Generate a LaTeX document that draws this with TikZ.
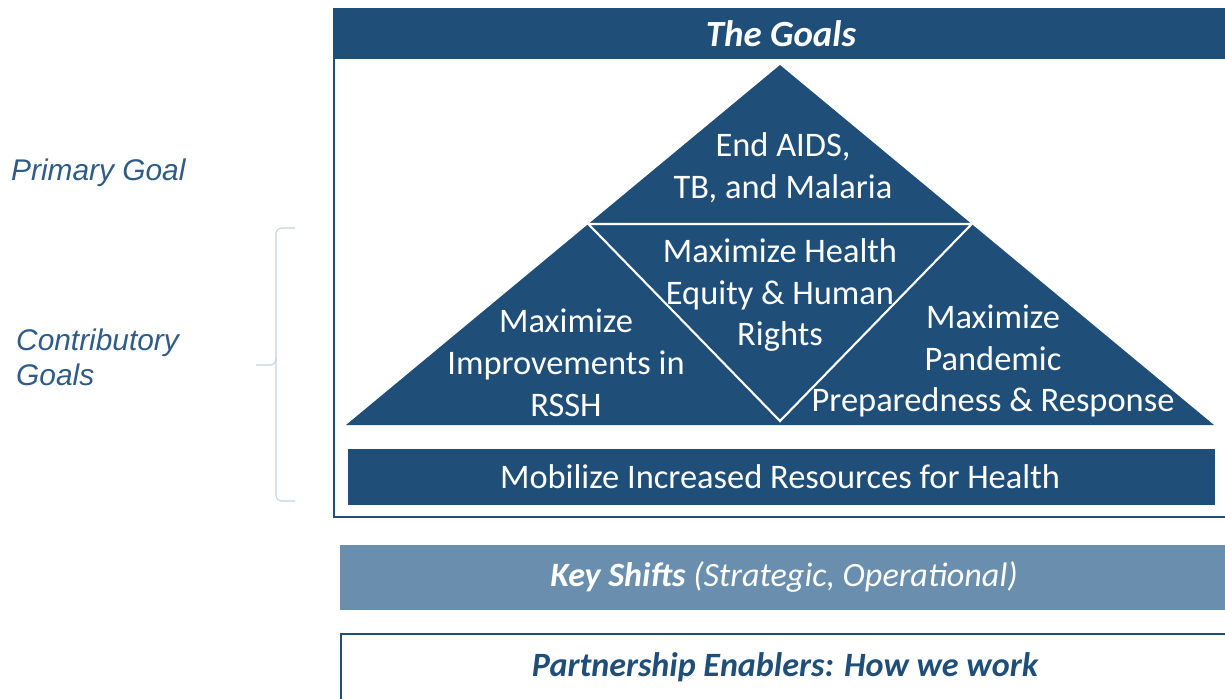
\documentclass[tikz,border=0pt]{standalone}
\usepackage{fontspec}
\setmainfont{Carlito}
\newfontfamily\arialfont{Liberation Sans}
\definecolor{goalblue}{HTML}{1F4E79}
\definecolor{shiftblue}{HTML}{6A8EAD}
\definecolor{labelblue}{HTML}{2E5B87}
\definecolor{bracegray}{HTML}{C3D3E4}
\begin{document}
\begin{tikzpicture}[x=0.02cm,y=-0.02cm,
	goaltext/.style={text=white,align=center,font=\fontsize{19.6}{23.8}\selectfont},
	bartext/.style={font=\itshape\fontsize{19.4}{23.8}\selectfont},
	sidelabel/.style={text=labelblue,align=left,anchor=west,font=\arialfont\itshape\fontsize{17}{20}\selectfont}]
		\useasboundingbox (0,0) rectangle (1225,698);
		\clip (0,0) rectangle (1225,698);
		
		\draw[goalblue,line width=1.3pt] (334,9) rectangle (1240,517);
		\fill[goalblue] (334,8) rectangle (1240,59);
		\node[text=white,font=\bfseries\itshape\fontsize{21}{25}\selectfont] (goals) at (781,34) {The Goals};
		
		\coordinate (apex) at (780,65);
		\coordinate (bl) at (346,425);
		\coordinate (br) at (1214,425);
		\coordinate (ml) at (588.3,224);
		\coordinate (mr) at (971.7,224);
		\coordinate (mb) at (780,421);
		
		\fill[goalblue] (apex) -- (br) -- (bl) -- cycle;
		\draw[white,line width=1.2pt] (ml) -- (mr) -- (mb) -- cycle;
		
		\node[goaltext] (aids) at (783,168) {End AIDS,\\TB, and Malaria};
		\node[goaltext] (equity) at (780,295) {Maximize Health\\Equity \& Human\\Rights};
		\node[goaltext] (rssh) at (566,363) {Maximize\\Improvements in\\RSSH};
		\node[goaltext] (ppr) at (993,361) {Maximize\\Pandemic\\Preparedness \& Response};
		
		\fill[goalblue] (348,449) rectangle (1215,505);
		\node[goaltext] (mobil) at (780,477) {Mobilize Increased Resources for Health};
		
		\fill[shiftblue] (340,545) rectangle (1240,610);
		\node[bartext,text=white] (shifts) at (784,577) {\textbf{Key Shifts} (Strategic, Operational)};
		
		\draw[goalblue,line width=1.3pt] (341,634) rectangle (1240,710);
		\node[bartext,text=goalblue] (enablers) at (785,667) {\textbf{Partnership Enablers: How we work}};
		
		\node[sidelabel] (primary) at (5,173) {Primary Goal};
		\node[sidelabel] (contrib) at (10,357) {Contributory\\Goals};
		
		\draw[bracegray,line width=0.6pt,rounded corners=3pt] (295,228) -- (276,228) -- (276,365) -- (256,365);
		\draw[bracegray,line width=0.6pt,rounded corners=3pt] (276,358) -- (276,501) -- (295,501);
\end{tikzpicture}
\end{document}
